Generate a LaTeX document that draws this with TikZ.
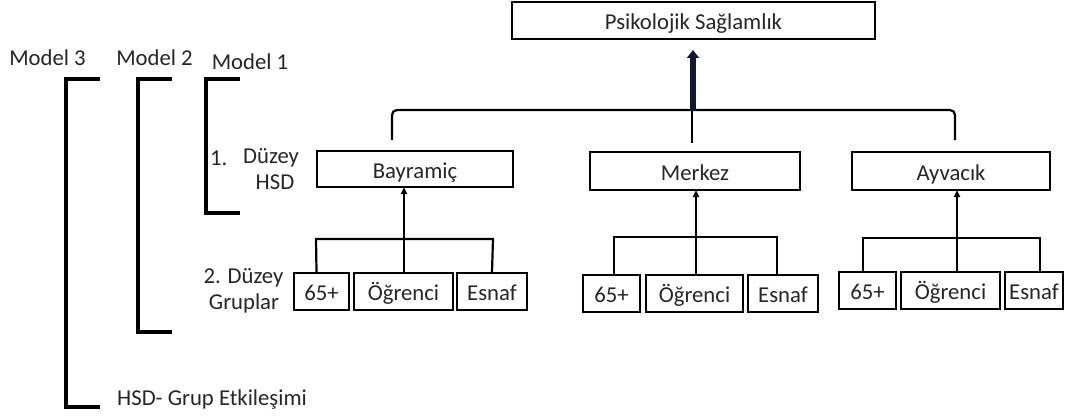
\documentclass[tikz,border=0pt]{standalone}
\usepackage{fontspec}
\setmainfont{Carlito}
\usetikzlibrary{arrows.meta}
\begin{document}
\begin{tikzpicture}[x=1pt,y=-1pt,
  txt/.style={font=\fontsize{22.7}{26}\selectfont, text=black!85, inner sep=0pt},
  box/.style={txt, draw=black, line width=2.4pt, minimum height=#1, text height=20pt, text depth=2pt},
  box/.default=37pt,
  brk/.style={line width=4pt, line cap=butt},
  conn/.style={line width=2.2pt},
  uparrow/.style={line width=1.8pt, -{Triangle[width=6pt,length=7pt]}},
  bigarrow/.style={line width=5.5pt, color={rgb,255:red,15;green,25;blue,50}, -{Triangle[width=12pt,length=8pt]}}
]
\useasboundingbox (0,0) rectangle (1078,417);

% top
\node[box, minimum width=363pt] (top) at (693.5,20.5) {Psikolojik Sağlamlık};

% level 1
\node[box=36pt, minimum width=196pt] (bay) at (415,169) {Bayramiç};
\node[box=38pt, minimum width=210pt] (mer) at (695,171) {Merkez};
\node[box=38pt, minimum width=198pt] (ayv) at (951,171) {Ayvacık};

% level 2 Bayramiç
\node[box, minimum width=55pt] (b65) at (321.5,291.5) {65+};
\node[box, minimum width=99pt] (bog) at (403.5,291.5) {Öğrenci};
\node[box, minimum width=70pt] (bes) at (492,291.5) {Esnaf};
% level 2 Merkez
\node[box, minimum width=57pt] (m65) at (611.5,293.5) {65+};
\node[box, minimum width=97pt] (mog) at (694.5,293.5) {Öğrenci};
\node[box, minimum width=70pt] (mes) at (783,293.5) {Esnaf};
% level 2 Ayvacık
\node[box, minimum width=57pt] (a65) at (867.5,290.5) {65+};
\node[box, minimum width=99pt] (aog) at (950.5,290.5) {Öğrenci};
\node[box, minimum width=58pt] (aes) at (1034,290.5) {Esnaf};

% labels
\node[txt] (m3) at (47.5,58) {Model 3};
\node[txt] (m2) at (154.5,58) {Model 2};
\node[txt] (m1) at (250,62) {Model 1};
\node[txt, anchor=west] (d1n) at (210,158) {1.};
\node[txt, anchor=west] (d1) at (243,158) {Düzey};
\node[txt] (hsd) at (275,182) {HSD};
\node[txt] (d2) at (243.5,278) {2. Düzey};
\node[txt] (gr) at (244,303) {Gruplar};
\node[txt, anchor=west] (etk) at (117,400) {HSD- Grup Etkileşimi};

% brackets
\draw[brk] (100,79) -- (66,79) -- (66,407) -- (100,407);
\draw[brk] (172,79) -- (138,79) -- (138,332) -- (172,332);
\draw[brk] (240,79) -- (206,79) -- (206,213) -- (240,213);

% top connector
\coordinate (cL) at (392,140);
\coordinate (cR) at (955,140);
\coordinate (cM) at (692,143);
\coordinate (cJ) at (692,110);
\draw[conn, rounded corners=5pt] (cL) -- (392,110) -- (955,110) -- (cR);
\draw[conn] (cJ) -- (cM);
\draw[bigarrow] (693,111) -- (693,50);

% group connectors Bayramiç
\draw[conn] ([xshift=-5pt]b65.north) -- (316,239) -- (493,239) -- (bes.north);
\draw[uparrow] (bog.north -| 404,0) -- (404,187);
% Merkez
\draw[conn] ([xshift=2.5pt]m65.north) -- (614,237) -- (777,237) -- ([xshift=-6pt]mes.north);
\draw[uparrow] (mog.north -| 696,0) -- (696,190);
% Ayvacık
\draw[conn] ([xshift=-4.5pt]a65.north) -- (863,238) -- (1040,238) -- ([xshift=6pt]aes.north);
\draw[uparrow] (aog.north -| 957,0) -- (957,190);
\end{tikzpicture}
\end{document}
